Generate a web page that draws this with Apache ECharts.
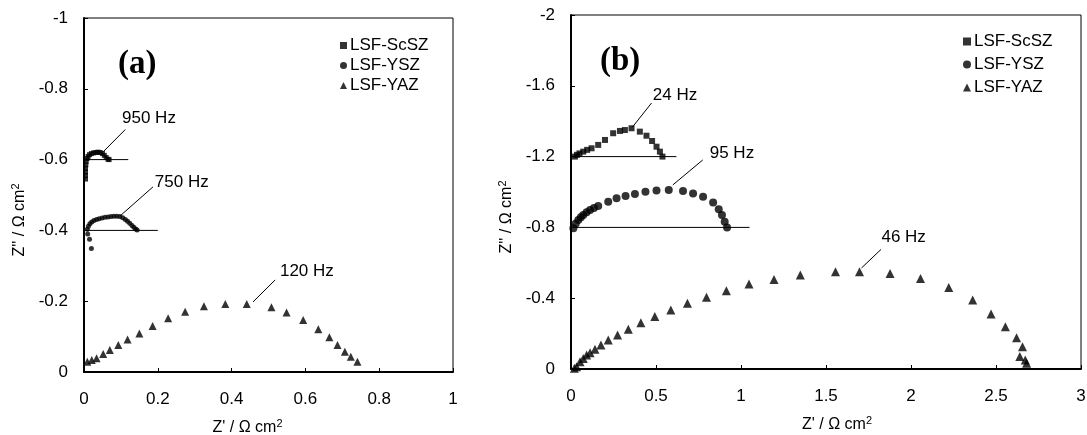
<!DOCTYPE html>
<html>
<head>
<meta charset="utf-8">
<script src="https://cdn.jsdelivr.net/npm/echarts@6/dist/echarts.min.js"></script>
<style>
  html, body { margin: 0; padding: 0; background: #fff; }
  #chart { width: 1087px; height: 435px; }
</style>
</head>
<body>
<div id="chart"></div>
<script>
// Nombres de las series
const seriesNames = ['LSF-ScSZ', 'LSF-YSZ', 'LSF-YAZ'];

// Ejes (ticks)
const xTicksA = [0, 0.2, 0.4, 0.6, 0.8, 1];
const yTicksA = [-1, -0.8, -0.6, -0.4, -0.2, 0];
const xTicksB = [0, 0.5, 1, 1.5, 2, 2.5, 3];
const yTicksB = [-2, -1.6, -1.2, -0.8, -0.4, 0];

// Panel (a): Z' , Z''
const scszA = [
  [0.004, -0.545], [0.004, -0.555], [0.004, -0.565], [0.004, -0.575], [0.005, -0.585],
  [0.006, -0.595], [0.008, -0.603], [0.011, -0.609], [0.015, -0.614], [0.020, -0.617],
  [0.026, -0.619], [0.032, -0.620], [0.038, -0.621], [0.044, -0.620], [0.050, -0.617],
  [0.055, -0.612], [0.060, -0.606], [0.065, -0.601], [0.068, -0.600]
];
const yszA = [
  [0.020, -0.349], [0.015, -0.375], [0.010, -0.390], [0.009, -0.403], [0.012, -0.412],
  [0.016, -0.419], [0.021, -0.424], [0.027, -0.428], [0.034, -0.431], [0.041, -0.433],
  [0.049, -0.435], [0.057, -0.437], [0.065, -0.438], [0.073, -0.439], [0.081, -0.440],
  [0.089, -0.440], [0.097, -0.439], [0.105, -0.436], [0.112, -0.431], [0.118, -0.426],
  [0.124, -0.420], [0.130, -0.414], [0.135, -0.409], [0.140, -0.404], [0.144, -0.401]
];
const yazA = [
  [0.009, -0.029], [0.021, -0.034], [0.034, -0.039], [0.052, -0.051], [0.070, -0.062],
  [0.093, -0.076], [0.118, -0.092], [0.150, -0.109], [0.186, -0.130], [0.228, -0.152],
  [0.274, -0.170], [0.325, -0.186], [0.383, -0.192], [0.441, -0.192], [0.508, -0.183],
  [0.549, -0.168], [0.594, -0.147], [0.635, -0.121], [0.665, -0.098], [0.687, -0.076],
  [0.707, -0.057], [0.723, -0.043], [0.741, -0.029]
];

// Panel (b)
const scszB = [
  [0.023, -1.200], [0.035, -1.210], [0.050, -1.218], [0.072, -1.228], [0.095, -1.238],
  [0.121, -1.247], [0.160, -1.266], [0.200, -1.294], [0.248, -1.332], [0.288, -1.345],
  [0.317, -1.350], [0.356, -1.360], [0.405, -1.341], [0.444, -1.318], [0.477, -1.288],
  [0.503, -1.256], [0.523, -1.228], [0.538, -1.200]
];
const yszB = [
  [0.014, -0.795], [0.028, -0.822], [0.043, -0.842], [0.058, -0.857], [0.072, -0.870],
  [0.092, -0.885], [0.112, -0.898], [0.135, -0.910], [0.160, -0.921], [0.219, -0.945],
  [0.268, -0.964], [0.321, -0.977], [0.376, -0.989], [0.438, -1.002], [0.503, -1.008],
  [0.575, -1.011], [0.659, -1.006], [0.718, -0.992], [0.777, -0.973], [0.836, -0.940],
  [0.869, -0.902], [0.888, -0.870], [0.904, -0.832], [0.918, -0.800]
];
const yazB = [
  [0.020, -0.004], [0.033, -0.013], [0.053, -0.041], [0.072, -0.060], [0.092, -0.079],
  [0.112, -0.092], [0.141, -0.111], [0.176, -0.135], [0.219, -0.164], [0.274, -0.192],
  [0.337, -0.224], [0.411, -0.262], [0.493, -0.296], [0.587, -0.333], [0.685, -0.371],
  [0.797, -0.405], [0.914, -0.442], [1.047, -0.480], [1.194, -0.506], [1.349, -0.531],
  [1.556, -0.550], [1.697, -0.550], [1.877, -0.540], [2.056, -0.512], [2.222, -0.461],
  [2.363, -0.390], [2.471, -0.311], [2.555, -0.239], [2.621, -0.177], [2.656, -0.126],
  [2.640, -0.070], [2.672, -0.051], [2.680, -0.032]
];

// Líneas horizontales de referencia
const baseLinesA = [
  [[0, -0.6], [0.12, -0.6]],
  [[0, -0.4], [0.2, -0.4]]
];
const baseLinesB = [
  [[0, -1.2], [0.62, -1.2]],
  [[0, -0.8], [1.05, -0.8]]
];

// Anotaciones de frecuencia: línea guía y posición del texto
const notesA = [
  { text: '950 Hz', from: [0.052, -0.622], to: [0.112, -0.685], at: [0.103, -0.718] },
  { text: '750 Hz', from: [0.098, -0.441], to: [0.187, -0.523], at: [0.192, -0.537] },
  { text: '120 Hz', from: [0.458, -0.198], to: [0.518, -0.260], at: [0.531, -0.285] }
];
const notesB = [
  { text: '24 Hz', from: [0.360, -1.365], to: [0.474, -1.503], at: [0.481, -1.548] },
  { text: '95 Hz', from: [0.599, -1.040], to: [0.775, -1.181], at: [0.816, -1.220] },
  { text: '46 Hz', from: [1.709, -0.571], to: [1.824, -0.676], at: [1.826, -0.746] }
];

const FONT = 'Liberation Sans, Arial, sans-serif';
const FS = 17;

// Formato de etiquetas sin errores de coma flotante
const fmt = v => String(+v.toFixed(2));

function makeAxes(xTicks, yTicks, gridIndex, namePadX, namePadY) {
  const xStep = xTicks[1] - xTicks[0];
  const yStep = yTicks[1] - yTicks[0];
  const sup = { fontSize: 11, verticalAlign: 'top', padding: [0, 0, 8, 0], color: '#000', fontFamily: FONT };
  const xAxis = {
    type: 'value', gridIndex: gridIndex,
    min: xTicks[0], max: xTicks[xTicks.length - 1], interval: xStep,
    name: "Z' / Ω cm{sup|2}", nameLocation: 'middle', nameGap: 46,
    nameTextStyle: { color: '#000', fontSize: 16, fontFamily: FONT, padding: namePadX, rich: { sup: sup } },
    axisLine: { onZero: false, lineStyle: { color: '#000', width: 2 } },
    axisTick: { inside: true, length: 4, lineStyle: { color: '#000' } },
    axisLabel: { color: '#000', fontSize: FS, fontFamily: FONT, margin: 19, formatter: fmt },
    splitLine: { show: false }
  };
  const yAxis = {
    type: 'value', gridIndex: gridIndex, inverse: true,
    min: yTicks[0], max: yTicks[yTicks.length - 1], interval: yStep,
    name: "Z'' / Ω cm{sup|2}", nameLocation: 'middle', nameGap: 55, nameRotate: 90,
    nameTextStyle: { color: '#000', fontSize: 16, fontFamily: FONT, padding: namePadY, rich: { sup: sup } },
    axisLine: { onZero: false, lineStyle: { color: '#000', width: 2 } },
    axisTick: { inside: true, length: 4, lineStyle: { color: '#000' } },
    axisLabel: { color: '#000', fontSize: FS, fontFamily: FONT, margin: 16, formatter: fmt },
    splitLine: { show: false }
  };
  return { xAxis, yAxis };
}

function scatter(name, data, symbol, size, idx) {
  return {
    name: name, type: 'scatter', xAxisIndex: idx, yAxisIndex: idx,
    data: data, symbol: symbol, symbolSize: size,
    itemStyle: { color: '#000' }, silent: true
  };
}

function refLine(data, idx) {
  return {
    type: 'line', xAxisIndex: idx, yAxisIndex: idx, data: data,
    showSymbol: false, symbol: 'none', silent: true,
    lineStyle: { color: '#000', width: 1 }
  };
}

function noteSeries(notes, idx) {
  const out = [];
  notes.forEach(n => {
    out.push(refLine([n.from, n.to], idx));
    out.push({
      type: 'scatter', xAxisIndex: idx, yAxisIndex: idx, silent: true,
      data: [n.at], symbolSize: 0.01, itemStyle: { color: '#000', opacity: 1 },
      label: {
        show: true, position: 'right', distance: 0, formatter: n.text, opacity: 1,
        color: '#000', fontSize: FS, fontFamily: FONT
      }
    });
  });
  return out;
}

const axA = makeAxes(xTicksA, yTicksA, 0, [0, 42, 0, 0], [0, 50, 0, 0]);
const axB = makeAxes(xTicksB, yTicksB, 1, [0, 0, 0, 22], [0, 50, 0, 0]);

const series = [
  scatter(seriesNames[0], scszA, 'rect', 5, 0),
  scatter(seriesNames[1], yszA, 'circle', 5, 0),
  scatter(seriesNames[2], yazA, 'triangle', 8, 0),
  scatter(seriesNames[0], scszB, 'rect', 6, 1),
  scatter(seriesNames[1], yszB, 'circle', 8, 1),
  scatter(seriesNames[2], yazB, 'triangle', 9, 1)
];
baseLinesA.forEach(l => series.push(refLine(l, 0)));
baseLinesB.forEach(l => series.push(refLine(l, 1)));
noteSeries(notesA, 0).forEach(s => series.push(s));
noteSeries(notesB, 1).forEach(s => series.push(s));

const chart = echarts.init(document.getElementById('chart'));
chart.setOption({
  animation: false,
  backgroundColor: '#fff',
  title: [
    { text: '(a)', left: 113, top: 43, textStyle: { fontFamily: 'Liberation Serif, Times New Roman, serif', fontWeight: 'bold', fontSize: 33, color: '#000' } },
    { text: '(b)', left: 595, top: 40, textStyle: { fontFamily: 'Liberation Serif, Times New Roman, serif', fontWeight: 'bold', fontSize: 33, color: '#000' } }
  ],
  legend: [
    {
      data: seriesNames, orient: 'vertical', left: 335, top: 32,
      itemWidth: 7, itemHeight: 7, itemGap: 3,
      textStyle: { color: '#000', fontSize: FS, fontFamily: FONT, padding: [0, 0, 0, -2] }
    },
    {
      data: seriesNames, orient: 'vertical', left: 958, top: 28,
      itemWidth: 8, itemHeight: 8, itemGap: 6,
      textStyle: { color: '#000', fontSize: FS, fontFamily: FONT, padding: [0, 0, 0, -2] }
    }
  ],
  grid: [
    { left: 84, top: 18, width: 369, height: 354, show: true, borderColor: '#000', borderWidth: 1, containLabel: false, outerBoundsMode: 'none' },
    { left: 571, top: 15, width: 510, height: 354, show: true, borderColor: '#000', borderWidth: 1, containLabel: false, outerBoundsMode: 'none' }
  ],
  xAxis: [axA.xAxis, axB.xAxis],
  yAxis: [axA.yAxis, axB.yAxis],
  series: series
});
</script>
</body>
</html>
